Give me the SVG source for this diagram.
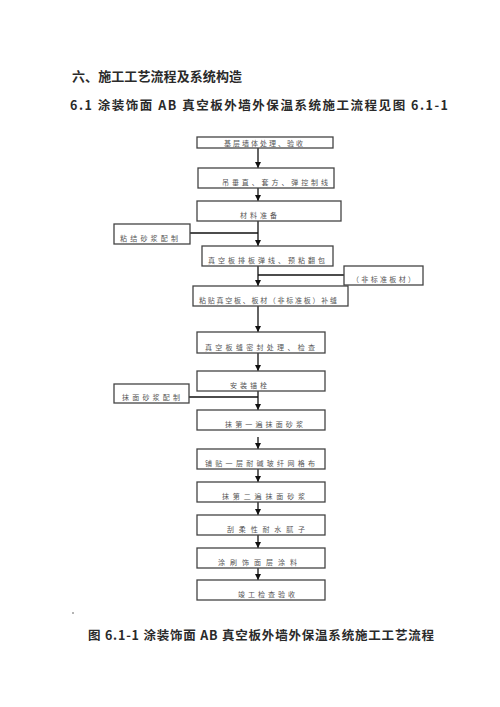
<svg xmlns="http://www.w3.org/2000/svg" width="500" height="707" viewBox="0 0 500 707">
<defs>
<marker id="ah" markerUnits="userSpaceOnUse" markerWidth="7" markerHeight="7" refX="6" refY="3.5" orient="auto">
<path d="M0,0.5 L6,3.5 L0,6.5 z" fill="#111"/>
</marker>
<style>
.box{fill:#fff;stroke:#444;stroke-width:1.3}
.bt{font-family:"Noto Sans CJK SC","Liberation Sans",sans-serif;font-size:7px;fill:#555}
.ttl{font-family:"Noto Sans CJK SC","Liberation Serif",serif;font-weight:600;fill:#2a2a2a}
.ln{stroke:#111;stroke-width:1.3;fill:none}
.ar{stroke:#111;stroke-width:1.3;fill:none;marker-end:url(#ah)}
</style>
</defs>
<rect width="500" height="707" fill="#fff"/>
<text class="ttl" x="72" y="81" font-size="13" textLength="170" lengthAdjust="spacing">六、施工工艺流程及系统构造</text>
<text class="ttl" x="70" y="110" font-size="12.5" textLength="378" lengthAdjust="spacing">6.1 涂装饰面 AB 真空板外墙外保温系统施工流程见图 6.1-1</text>

<g id="connectors">
<line class="ar" x1="258" y1="148" x2="258" y2="168"/>
<line class="ar" x1="258" y1="188" x2="258" y2="201"/>
<line class="ar" x1="258" y1="221" x2="258" y2="246"/>
<line class="ln" x1="190" y1="233" x2="258" y2="233"/>
<line class="ar" x1="258" y1="266" x2="258" y2="286"/>
<line class="ln" x1="344" y1="275" x2="258" y2="275"/>
<line class="ar" x1="258" y1="306" x2="258" y2="332"/>
<line class="ar" x1="258" y1="353" x2="258" y2="371"/>
<line class="ar" x1="258" y1="391" x2="258" y2="410"/>
<line class="ln" x1="189" y1="397" x2="258" y2="397"/>
<line class="ar" x1="258" y1="437" x2="258" y2="449"/>
<line class="ar" x1="258" y1="469" x2="258" y2="482"/>
<line class="ar" x1="258" y1="502" x2="258" y2="515"/>
<line class="ar" x1="258" y1="535" x2="258" y2="548"/>
<line class="ar" x1="258" y1="568" x2="258" y2="580"/>
</g>

<g id="n1"><rect class="box" x="197" y="137" width="136" height="11"/><text class="bt" x="224" y="145.5" textLength="79" lengthAdjust="spacing">基层墙体处理、验收</text></g>
<g id="n2"><rect class="box" x="198" y="168" width="136" height="20"/><text class="bt" x="222" y="185" textLength="106" lengthAdjust="spacing">吊垂直、套方、弹控制线</text></g>
<g id="n3"><rect class="box" x="197" y="201" width="144" height="20"/><text class="bt" x="240" y="218" textLength="37" lengthAdjust="spacing">材料准备</text></g>
<g id="l1"><rect class="box" x="114" y="224" width="76" height="20"/><text class="bt" x="120" y="241" textLength="58" lengthAdjust="spacing">粘结砂浆配制</text></g>
<g id="n4"><rect class="box" x="202" y="246" width="131" height="20"/><text class="bt" x="208" y="263" textLength="117" lengthAdjust="spacing">真空板排板弹线、预粘翻包</text></g>
<g id="r1"><rect class="box" x="344" y="266" width="79" height="19"/><text class="bt" x="352" y="282" textLength="63" lengthAdjust="spacing">（非标准板材）</text></g>
<g id="n5"><rect class="box" x="193" y="286" width="155" height="20"/><text class="bt" x="199" y="303" textLength="138" lengthAdjust="spacing">粘贴真空板、板材（非标准板）补缝</text></g>
<g id="n6"><rect class="box" x="197" y="332" width="128" height="21"/><text class="bt" x="205" y="350" textLength="110" lengthAdjust="spacing">真空板缝密封处理、检查</text></g>
<g id="n7"><rect class="box" x="197" y="371" width="128" height="20"/><text class="bt" x="230" y="388" textLength="37" lengthAdjust="spacing">安装锚栓</text></g>
<g id="l3"><rect class="box" x="114" y="384" width="75" height="19"/><text class="bt" x="122" y="400" textLength="58" lengthAdjust="spacing">抹面砂浆配制</text></g>
<g id="n8"><rect class="box" x="197" y="410" width="128" height="20"/><text class="bt" x="225" y="427" textLength="78" lengthAdjust="spacing">抹第一遍抹面砂浆</text></g>
<g id="n9"><rect class="box" x="197" y="449" width="128" height="20"/><text class="bt" x="205" y="466" textLength="110" lengthAdjust="spacing">铺贴一层耐碱玻纤网格布</text></g>
<g id="n10"><rect class="box" x="197" y="482" width="128" height="20"/><text class="bt" x="222" y="499" textLength="83" lengthAdjust="spacing">抹第二遍抹面砂浆</text></g>
<g id="n11"><rect class="box" x="197" y="515" width="128" height="20"/><text class="bt" x="227" y="532" textLength="78" lengthAdjust="spacing">刮柔性耐水腻子</text></g>
<g id="n12"><rect class="box" x="197" y="548" width="128" height="20"/><text class="bt" x="218" y="565" textLength="79" lengthAdjust="spacing">涂刷饰面层涂料</text></g>
<g id="n13"><rect class="box" x="197" y="580" width="128" height="20"/><text class="bt" x="238" y="597" textLength="57" lengthAdjust="spacing">竣工检查验收</text></g>

<circle cx="73" cy="613" r="0.8" fill="#555"/>
<text class="ttl" x="88" y="640" font-size="12.5" textLength="346" lengthAdjust="spacing">图 6.1-1  涂装饰面 AB 真空板外墙外保温系统施工工艺流程</text>
</svg>
